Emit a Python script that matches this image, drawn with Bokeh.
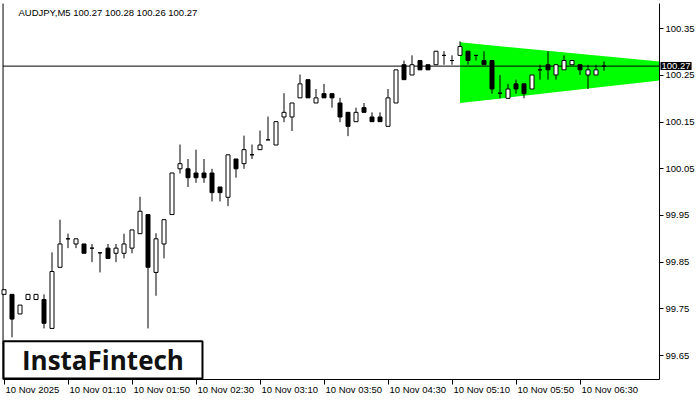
from bokeh.plotting import figure
from bokeh.models import (ColumnDataSource, Range1d, LinearAxis, FixedTicker,
                          Label, BoxAnnotation, PrintfTickFormatter)
from bokeh.embed import file_html
from bokeh.resources import INLINE

# ---------------- data ----------------
symbol = "AUDJPY,M5"
last_ohlc = ["100.27", "100.28", "100.26", "100.27"]
bid = 100.27

opens = [99.781, 99.781, 99.739, 99.770, 99.770, 99.770, 99.708, 99.839, 99.900, 99.889,
         99.889, 99.880, 99.870, 99.880, 99.869, 99.869, 99.880, 99.911, 99.952, 99.828,
         99.889, 99.952, 100.050, 100.050, 100.041, 100.041, 100.041, 100.011, 99.989, 100.071,
         100.061, 100.080, 100.091, 100.112, 100.101, 100.161, 100.161, 100.202, 100.241, 100.191,
         100.211, 100.211, 100.191, 100.171, 100.151, 100.181, 100.161, 100.161, 100.141, 100.191,
         100.273, 100.251, 100.282, 100.273, 100.273, 100.293, 100.282, 100.293, 100.302, 100.293,
         100.282, 100.282, 100.212, 100.201, 100.232, 100.232, 100.221, 100.262, 100.273, 100.251,
         100.262, 100.273, 100.273, 100.251, 100.251, 100.270]
highs = [99.791, 99.781, 99.758, 99.781, 99.781, 99.781, 99.871, 99.941, 99.911, 99.900,
         99.889, 99.889, 99.870, 99.889, 99.889, 99.911, 99.919, 99.990, 99.952, 99.912,
         99.941, 100.041, 100.102, 100.071, 100.091, 100.071, 100.050, 100.011, 100.080, 100.071,
         100.121, 100.102, 100.132, 100.162, 100.151, 100.212, 100.191, 100.252, 100.241, 100.221,
         100.232, 100.211, 100.202, 100.171, 100.181, 100.191, 100.171, 100.171, 100.221, 100.262,
         100.282, 100.293, 100.282, 100.273, 100.302, 100.302, 100.293, 100.323, 100.302, 100.293,
         100.302, 100.282, 100.251, 100.232, 100.241, 100.232, 100.251, 100.273, 100.302, 100.273,
         100.293, 100.282, 100.273, 100.273, 100.273, 100.280]
lows = [99.781, 99.689, 99.739, 99.770, 99.770, 99.708, 99.708, 99.839, 99.880, 99.880,
        99.869, 99.850, 99.828, 99.858, 99.850, 99.858, 99.869, 99.911, 99.708, 99.778,
        99.858, 99.952, 100.040, 100.011, 100.020, 100.020, 99.980, 99.980, 99.970, 100.031,
        100.050, 100.071, 100.091, 100.112, 100.101, 100.150, 100.131, 100.202, 100.202, 100.191,
        100.202, 100.181, 100.150, 100.120, 100.151, 100.171, 100.151, 100.151, 100.141, 100.191,
        100.241, 100.251, 100.262, 100.262, 100.273, 100.273, 100.273, 100.293, 100.273, 100.282,
        100.273, 100.211, 100.201, 100.201, 100.211, 100.201, 100.221, 100.241, 100.241, 100.241,
        100.262, 100.273, 100.251, 100.221, 100.251, 100.260]
closes = [99.791, 99.728, 99.758, 99.781, 99.781, 99.719, 99.830, 99.889, 99.900, 99.900,
          99.869, 99.880, 99.870, 99.858, 99.880, 99.889, 99.919, 99.959, 99.839, 99.900,
          99.941, 100.041, 100.061, 100.031, 100.031, 100.031, 99.999, 99.999, 100.080, 100.050,
          100.091, 100.080, 100.101, 100.112, 100.151, 100.171, 100.191, 100.232, 100.202, 100.202,
          100.202, 100.202, 100.161, 100.141, 100.171, 100.171, 100.151, 100.151, 100.202, 100.262,
          100.241, 100.273, 100.262, 100.262, 100.302, 100.293, 100.282, 100.312, 100.282, 100.293,
          100.273, 100.221, 100.212, 100.221, 100.221, 100.211, 100.251, 100.262, 100.262, 100.273,
          100.282, 100.282, 100.262, 100.262, 100.262, 100.270]

tick_bars = [0, 8, 16, 24, 32, 40, 48, 56, 64, 72]
tick_labels = ["10 Nov 2025", "10 Nov 01:10", "10 Nov 01:50", "10 Nov 02:30", "10 Nov 03:10",
               "10 Nov 03:50", "10 Nov 04:30", "10 Nov 05:10", "10 Nov 05:50", "10 Nov 06:30"]
price_ticks = [99.65, 99.75, 99.85, 99.95, 100.05, 100.15, 100.25, 100.35]

# symmetrical triangle pattern (bar index, price)
tri_bars = [57, 57, 93.4]
tri_prices = [100.321, 100.191, 100.261]

logo_text = "InstaFintech"

# ---------------- layout ----------------
W, H = 700, 400
X0, X1 = -0.4375, 87.0625      # whole canvas in bar units
Y0, Y1 = 99.5536, 100.4106     # whole canvas in price units
X_AX = 81.94                   # price axis position (chart right edge)
Y_AX = 99.5985                 # time axis position (chart bottom edge)
Y_TOP = 100.404                # chart top
X_LEFT = -0.12                 # chart left border
FONT = "Liberation Sans"
FS = "9.5px"
px_per_bar = W / (X1 - X0)

bars = list(range(len(opens)))
tops = [max(o, c) for o, c in zip(opens, closes)]
bots = [min(o, c) for o, c in zip(opens, closes)]
fills = ["black" if c < o else "white" for o, c in zip(opens, closes)]
src = ColumnDataSource(dict(bar=bars, high=highs, low=lows, top=tops, bottom=bots, fill=fills))

p = figure(width=W, height=H, x_range=Range1d(X0, X1), y_range=Range1d(Y0, Y1),
           output_backend="svg", toolbar_location=None,
           x_axis_location=None, y_axis_location=None,
           min_border_left=0, min_border_top=0, min_border_right=0, min_border_bottom=0)
p.background_fill_color = "white"
p.border_fill_color = "white"
p.outline_line_color = None
p.grid.visible = False

# right price axis (drawn at the chart's right edge)
yax = LinearAxis(ticker=FixedTicker(ticks=price_ticks), formatter=PrintfTickFormatter(format="%.2f"),
                 fixed_location=X_AX, bounds=(Y_AX, Y_TOP),
                 major_tick_out=4, major_tick_in=0, minor_tick_line_color=None,
                 major_label_standoff=2, major_label_text_font=FONT,
                 major_label_text_font_size=FS, major_label_text_color="black",
                 axis_line_color="black", major_tick_line_color="black")
p.add_layout(yax, "right")

# bottom time axis: tick marks
ax_ticks = LinearAxis(ticker=FixedTicker(ticks=tick_bars),
                      major_label_overrides={b: "" for b in tick_bars},
                      fixed_location=Y_AX, bounds=(X_LEFT, X_AX),
                      major_tick_out=5, major_tick_in=0, minor_tick_line_color=None,
                      major_label_standoff=0, major_label_text_font_size="1px",
                      axis_line_color="black", major_tick_line_color="black")
p.add_layout(ax_ticks, "below")

# bottom time axis: labels starting at each tick
EM = {"0": .556, "1": .556, "2": .556, "3": .556, "4": .556, "5": .556, "6": .556, "7": .556,
      "8": .556, "9": .556, " ": .278, "N": .722, "o": .556, "v": .5, ":": .278}
centers = []
for b, t in zip(tick_bars, tick_labels):
    w = sum(EM.get(ch, .556) for ch in t) * 9.5
    centers.append(round(b + (w / 2 + 1.5) / px_per_bar, 3))
ax_lab = LinearAxis(ticker=FixedTicker(ticks=centers),
                    major_label_overrides={c: t for c, t in zip(centers, tick_labels)},
                    fixed_location=Y_AX,
                    major_tick_out=0, major_tick_in=0, major_tick_line_color=None,
                    minor_tick_line_color=None, axis_line_color=None,
                    major_label_standoff=4, major_label_text_font=FONT,
                    major_label_text_font_size=FS, major_label_text_color="black")
p.add_layout(ax_lab, "below")

# left border of the chart
p.segment(x0=[X_LEFT], y0=[Y_AX], x1=[X_LEFT], y1=[Y_TOP], line_color="black", line_width=1)

# triangle pattern, cut at the chart's right edge
def _lerp(x, xa, ya, xb, yb):
    return ya + (yb - ya) * (x - xa) / (xb - xa)

top_r = _lerp(X_AX, tri_bars[0], tri_prices[0], tri_bars[2], tri_prices[2])
bot_r = _lerp(X_AX, tri_bars[1], tri_prices[1], tri_bars[2], tri_prices[2])
p.patch([tri_bars[0], tri_bars[1], X_AX, X_AX], [tri_prices[0], tri_prices[1], bot_r, top_r],
        fill_color="#00ff00", line_color=None)

# bid line
p.segment(x0=[X_LEFT], y0=[bid], x1=[X_AX], y1=[bid], line_color="black", line_width=1)

# candles
p.segment(x0="bar", y0="low", x1="bar", y1="high", source=src, line_color="black", line_width=1)
p.vbar(x="bar", width=0.5, top="top", bottom="bottom", fill_color="fill",
       line_color="black", line_width=1, source=src)

# title
p.add_layout(Label(x=1.81, y=100.397, text=f"{symbol}  " + " ".join(last_ohlc),
                   text_baseline="top", text_align="left", text_font=FONT,
                   text_font_size=FS, text_color="black"))

# price tag on the price axis
p.add_layout(Label(x=X_AX, y=bid, x_offset=1, text=f"{bid:.2f}", text_color="white",
                   background_fill_color="black", background_fill_alpha=1,
                   text_baseline="middle", text_align="left", text_font=FONT,
                   text_font_size=FS, padding=1))

# logo
p.add_layout(BoxAnnotation(left=-0.0625, right=24.81, bottom=99.6007, top=99.6806,
                           fill_color="white", fill_alpha=1, line_color="black",
                           line_alpha=1, line_width=2, level="overlay"))
p.add_layout(Label(x=12.37, y=99.6406, text=logo_text, text_align="center",
                   text_baseline="middle", text_font="Open Sans", text_font_style="bold",
                   text_font_size="26px", text_color="#111111", level="overlay"))

open("out.html", "w").write(file_html(p, INLINE))
